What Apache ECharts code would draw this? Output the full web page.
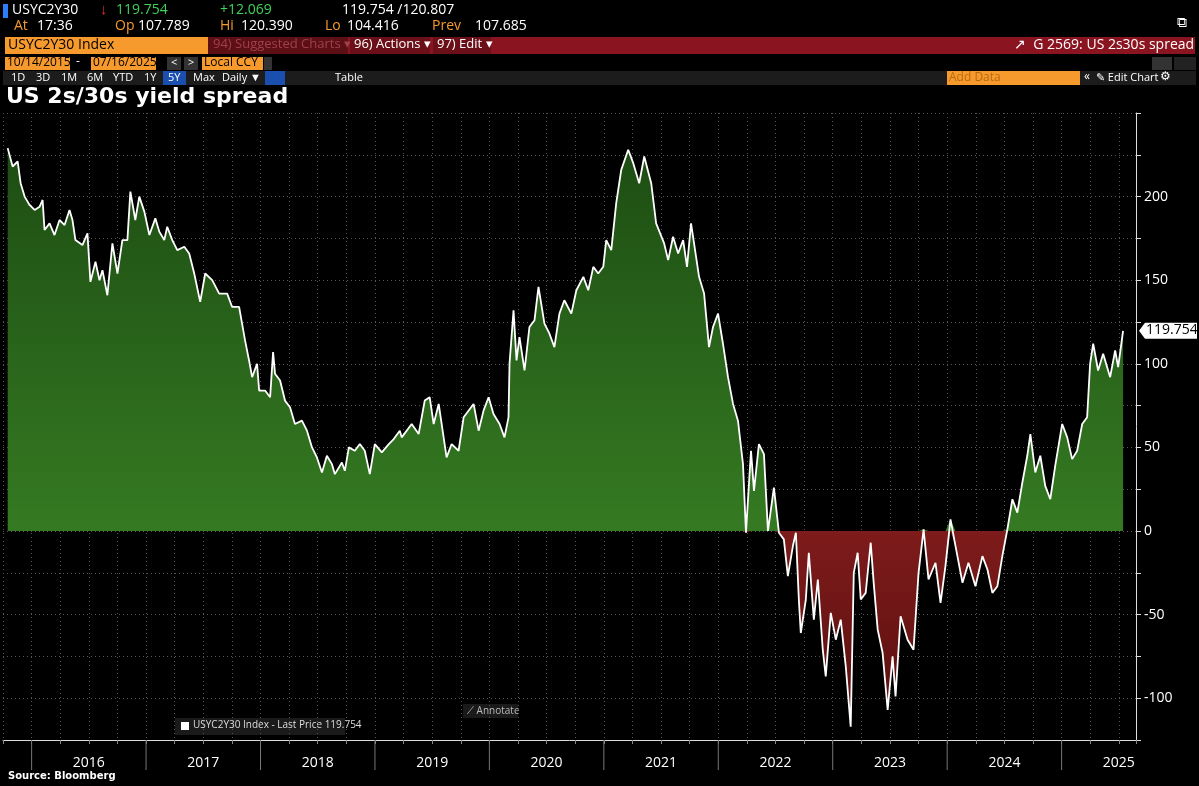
<!DOCTYPE html>
<html>
<head>
<meta charset="utf-8">
<script src="https://cdn.jsdelivr.net/npm/echarts@6/dist/echarts.min.js"></script>
<style>
html,body{margin:0;padding:0;background:#000;}
#chart{width:1199px;height:786px;}
</style>
</head>
<body>
<div id="chart"></div>
<script>
// dates as fractional years, spread in bp
var dates = [2015.791,2015.834,2015.878,2015.904,2015.939,2015.982,2016.026,2016.070,2016.096,2016.113,2016.157,2016.200,2016.244,2016.288,2016.331,2016.357,2016.383,2016.444,2016.488,2016.514,2016.558,2016.593,2016.619,2016.662,2016.706,2016.750,2016.793,2016.837,2016.863,2016.906,2016.941,2016.985,
2017.029,2017.081,2017.116,2017.159,2017.185,2017.229,2017.273,2017.334,2017.377,2017.421,2017.473,2017.517,2017.578,2017.639,2017.709,2017.752,2017.813,2017.839,2017.865,2017.900,2017.927,2017.970,2017.988,
2018.040,2018.084,2018.110,2018.127,2018.171,2018.214,2018.258,2018.301,2018.362,2018.406,2018.450,2018.493,2018.537,2018.580,2018.624,2018.650,2018.711,2018.737,2018.772,2018.824,2018.868,2018.911,2018.955,2018.999,
2019.060,2019.121,2019.164,2019.217,2019.234,2019.321,2019.382,2019.435,2019.478,2019.513,2019.557,2019.626,2019.670,2019.731,2019.775,2019.862,2019.906,2019.949,2019.993,
2020.036,2020.089,2020.132,2020.167,2020.176,2020.211,2020.237,2020.263,2020.307,2020.350,2020.394,2020.429,2020.481,2020.525,2020.568,2020.612,2020.655,2020.716,2020.760,2020.821,2020.864,2020.908,2020.951,2020.995,
2021.021,2021.065,2021.108,2021.152,2021.213,2021.257,2021.309,2021.353,2021.414,2021.457,2021.527,2021.562,2021.605,2021.649,2021.693,2021.727,2021.762,2021.806,2021.832,2021.876,2021.919,2021.954,2021.998,
2022.041,2022.085,2022.129,2022.172,2022.216,2022.242,2022.286,2022.312,2022.355,2022.399,2022.434,2022.486,2022.530,2022.573,2022.608,2022.652,2022.678,2022.704,2022.721,2022.765,2022.791,2022.835,2022.870,2022.913,2022.939,2022.983,
2023.027,2023.070,2023.114,2023.157,2023.184,2023.218,2023.245,2023.288,2023.332,2023.358,2023.393,2023.436,2023.480,2023.523,2023.549,2023.593,2023.654,2023.706,2023.750,2023.794,2023.837,2023.898,2023.942,2023.985,
2024.029,2024.073,2024.134,2024.186,2024.247,2024.308,2024.352,2024.395,2024.439,2024.482,2024.526,2024.570,2024.613,2024.657,2024.700,2024.727,2024.770,2024.814,2024.857,2024.901,2024.944,
2025.005,2025.049,2025.092,2025.136,2025.180,2025.223,2025.249,2025.276,2025.319,2025.363,2025.424,2025.468,2025.494,2025.537];

var spread = [229,218,221,208,200,195,192,194,198,180,184,177,186,183,192,186,174,171,178,149,161,150,156,141,172,154,174,174,203,186,200,191,
177,187,179,174,182,174,168,170,166,154,137,154,150,142,142,134,134,124,114,102,92,100,84,
84,80,107,94,90,78,74,64,66,60,50,44,35,45,40,34,41,36,50,48,52,48,34,52,
47,52,55,60,56,64,58,78,80,64,76,44,52,48,68,76,60,72,80,
70,64,56,68,100,132,102,116,96,122,126,146,124,118,110,130,138,130,144,152,144,158,154,158,
174,168,196,216,228,220,208,224,208,184,172,162,176,166,174,158,184,164,152,142,110,122,130,
112,92,76,66,40,-1,48,24,52,46,0,26,-1,-5,-27,-9,-1,-41,-61,-41,-13,-53,-29,-71,-87,-49,
-65,-53,-81,-117,-25,-13,-41,-37,-7,-31,-59,-73,-107,-75,-99,-51,-65,-71,-25,1,-29,-19,-43,-21,
7,-9,-31,-19,-33,-15,-23,-37,-33,-15,1,19,11,29,45,58,35,45,27,19,39,
64,56,43,48,64,68,100,112,96,106,92,108,98,119.754];

var yTicks = [-100,-50,0,50,100,150,200];
var years = [2016,2017,2018,2019,2020,2021,2022,2023,2024,2025];
var lastPrice = 119.754;

var pts = dates.map(function(d,i){return [d, spread[i]];});
var posPts = dates.map(function(d,i){return [d, Math.max(spread[i],0)];});
var negPts = dates.map(function(d,i){return [d, Math.min(spread[i],0)];});

var chart = echarts.init(document.getElementById('chart'));
var F = 'Open Sans, Noto Sans, sans-serif';
function t(x,y,s,c,o){ o=o||{}; return {type:'text',left:x,top:y,style:{text:s,fill:c,font:(o.w||'normal')+' '+(o.sz||13)+'px '+(o.f||F)}}; }
function r(x,y,w,h,c){ return {type:'rect',shape:{x:x,y:y,width:w,height:h},style:{fill:c}}; }

var ORG='#f79a2d', RED='#8a1420';
var tf = ['1D','3D','1M','6M','YTD','1Y','5Y','Max','Daily ▼'];
var tfx = [11,36,61,87,113,144,168,193,222];
var g = [
  r(3,4,5,14,'#2a7fff'),
  t(12,3,'USYC2Y30','#fff',{sz:14}),
  t(100,2,'↓','#e03030',{sz:15}),
  t(116,3,'119.754','#3fd35a',{sz:14}),
  t(220,3,'+12.069','#3fd35a',{sz:14}),
  t(342,3,'119.754 /120.807','#fff',{sz:14}),
  t(14,19,'At','#f79a2d',{sz:14}), t(37,19,'17:36','#fff',{sz:14}),
  t(115,19,'Op','#f79a2d',{sz:14}), t(138,19,'107.789','#fff',{sz:14}),
  t(220,19,'Hi','#f79a2d',{sz:14}), t(241,19,'120.390','#fff',{sz:14}),
  t(325,19,'Lo','#f79a2d',{sz:14}), t(347,19,'104.416','#fff',{sz:14}),
  t(432,19,'Prev','#f79a2d',{sz:14}), t(475,19,'107.685','#fff',{sz:14}),
  t(1177,16,'⧉','#fff',{sz:14}),
  r(208,37,987,17,RED), r(5,37,203,17,ORG),
  t(8,38,'USYC2Y30 Index','#000',{sz:14}),
  r(208,37,140,17,'#5c1016'),
  t(213,38,'94) Suggested Charts ▾','#a0404a',{sz:13}),
  r(350,37,80,17,'#6b1018'),
  t(354,38,'96) Actions ▾','#fff',{sz:13}),
  r(433,37,58,17,'#6b1018'),
  t(437,38,'97) Edit ▾','#fff',{sz:13}),
  t(1014,38,'↗  G 2569: US 2s30s spread','#fff',{sz:14}),
  r(5,57,65,13,ORG), t(7,57,'10/14/2015','#000',{sz:12}),
  t(76,56,'-','#fff',{sz:12}),
  r(91,57,65,13,ORG), t(93,57,'07/16/2025','#000',{sz:12}),
  r(167,57,14,13,'#333'), t(171,57,'<','#fff',{sz:11}),
  r(184,57,14,13,'#333'), t(188,57,'>','#fff',{sz:11}),
  r(202,57,61,13,ORG), t(204,57,'Local CCY','#000',{sz:12}),
  r(264,57,8,13,'#333'),
  r(1152,57,20,13,'#333'), r(1174,57,22,13,'#222'),
  r(3,71,1193,14,'#1c1c1c'),
  r(163,71,23,14,'#1a4fb0'),
  r(265,71,20,14,'#1a4fb0'),
  t(335,72,'Table','#fff',{sz:11}),
  r(947,71,133,14,ORG), t(949,72,'Add Data','#b86a10',{sz:12}),
  t(1084,71,'«','#fff',{sz:12}),
  t(1096,72,'✎ Edit Chart','#fff',{sz:11}),
  t(1160,71,'⚙','#fff',{sz:12}),
  t(6,86,'US 2s/30s yield spread','#fff',{sz:22,w:'bold',f:'DejaVu Sans, sans-serif'}),
  r(175,718,170,17,'#1a1a1a'), r(181,722,8,8,'#fff'),
  t(193,720,'USYC2Y30 Index - Last Price 119.754','#ddd',{sz:10}),
  r(463,704,55,14,'#1a1a1a'), t(467,706,'⟋ Annotate','#bbb',{sz:10}),
  t(8,771,'Source: Bloomberg','#fff',{sz:10,w:'bold',f:'DejaVu Sans, sans-serif'})
];
tf.forEach(function(s,i){ g.push(t(tfx[i],72,s,'#fff',{sz:11})); });

var option = {
  backgroundColor:'#000',
  animation:false,
  grid:{left:1,right:63,top:113,bottom:46},
  xAxis:{
    type:'value', min:2015.75, max:2025.65, interval:0.25,
    axisLine:{show:true,onZero:false,lineStyle:{color:'#ddd',width:1}},
    axisTick:{show:true,length:4,lineStyle:{color:'#888'}},
    splitLine:{show:true,lineStyle:{color:'#555',type:[1,3]}},
    axisLabel:{color:'#fff',fontSize:14,fontFamily:F,margin:16,
      formatter:function(v){ var f=v-Math.floor(v); return Math.abs(f-0.5)<1e-6 && years.indexOf(Math.floor(v))>=0 ? String(Math.floor(v)) : ''; }}
  },
  yAxis:{
    type:'value', position:'right', min:-125, max:250, interval:25,
    axisLine:{show:true,lineStyle:{color:'#ddd'}},
    axisTick:{show:true,length:5,lineStyle:{color:'#ddd'}},
    splitLine:{show:true,lineStyle:{color:'#555',type:[1,3]}},
    axisLabel:{color:'#fff',fontSize:14,fontFamily:F,margin:8,
      formatter:function(v){return yTicks.indexOf(v)>=0?String(v):'';}}
  },
  series:[
    {type:'line',data:posPts,symbol:'none',lineStyle:{width:0},
      areaStyle:{origin:0,opacity:1,color:new echarts.graphic.LinearGradient(0,0,0,1,[{offset:0,color:'#1d4d13'},{offset:1,color:'#357a22'}])}},
    {type:'line',data:negPts,symbol:'none',lineStyle:{width:0},
      areaStyle:{origin:0,opacity:1,color:new echarts.graphic.LinearGradient(0,0,0,1,[{offset:0,color:'#7e1b1b'},{offset:1,color:'#5a0f0f'}])}},
    {type:'line',data:pts,symbol:'none',lineStyle:{color:'#fff',width:1.8}},
    // year separator ticks below the axis
    {type:'custom',clip:false,silent:true,data:years.map(function(y){return [y,-125];}),
      renderItem:function(params,api){
        var c = api.coord([api.value(0),api.value(1)]);
        return {type:'line',shape:{x1:c[0],y1:c[1],x2:c[0],y2:c[1]+30},style:{stroke:'#777',lineWidth:1}};
      }}
  ],
  graphic:g
};
chart.setOption(option);
// last-price tag on the value axis
var p = chart.convertToPixel({gridIndex:0},[2025.65,lastPrice]);
chart.setOption({graphic:g.concat([
  {type:'polygon',shape:{points:[[p[0]+3,p[1]],[p[0]+9,p[1]-8],[p[0]+61,p[1]-8],[p[0]+61,p[1]+8],[p[0]+9,p[1]+8]]},style:{fill:'#fff'}},
  {type:'text',left:p[0]+10,top:p[1]-8,style:{text:lastPrice.toFixed(3),fill:'#000',font:'14px '+F}}
])});
</script>
</body>
</html>
